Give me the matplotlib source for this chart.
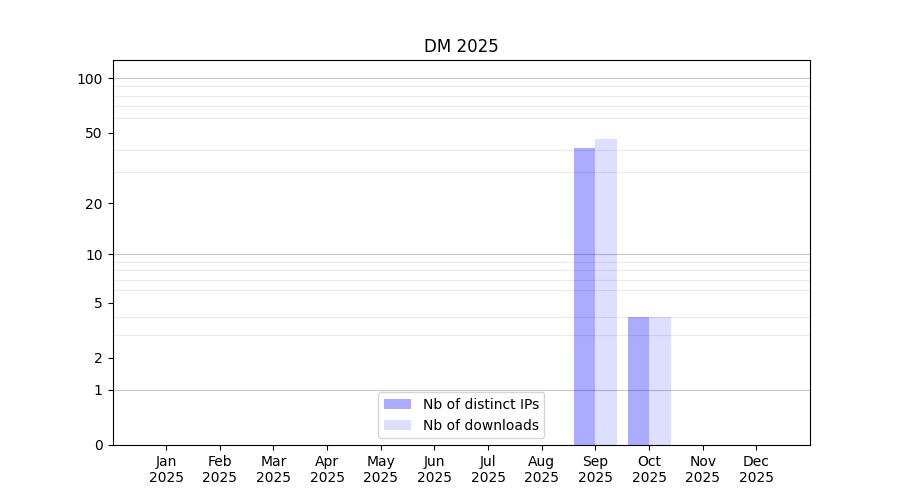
import numpy as np
import matplotlib
matplotlib.use('Agg')
import matplotlib.pyplot as plt
from matplotlib.ticker import FixedLocator, ScalarFormatter

months = ['Jan', 'Feb', 'Mar', 'Apr', 'May', 'Jun', 'Jul', 'Aug', 'Sep', 'Oct', 'Nov', 'Dec']
year = '2025'
distinct_ips = [0, 0, 0, 0, 0, 0, 0, 0, 41, 4, 0, 0]
downloads = [0, 0, 0, 0, 0, 0, 0, 0, 46, 4, 0, 0]

fig, ax = plt.subplots(figsize=(9, 5), dpi=100)
ax.set_axisbelow(True)

x = np.arange(1, len(months) + 1)
w = 0.4
ax.bar(x - w / 2, distinct_ips, w, color='blue', alpha=0.33, label='Nb of distinct IPs', zorder=2)
ax.bar(x + w / 2, downloads, w, color='blue', alpha=0.13, label='Nb of downloads', zorder=2)

# log(1+y) scale
ax.set_yscale('function', functions=(lambda v: np.log10(1 + np.clip(v, 0, None)),
                                     lambda v: 10 ** v - 1))
ax.set_ylim(0, 126)
ax.set_xlim(0, 13)

ax.yaxis.set_major_locator(FixedLocator([0, 1, 2, 5, 10, 20, 50, 100]))
ax.yaxis.set_major_formatter(ScalarFormatter())
ax.yaxis.set_minor_locator(FixedLocator([2, 3, 4, 5, 6, 7, 8, 9, 20, 30, 40, 50, 60, 70, 80, 90]))
ax.tick_params(axis='y', which='minor', length=0)
ax.grid(axis='y', which='minor', color='#ebebeb', lw=0.8, zorder=0)
for v in [1, 10, 100]:
    ax.axhline(v, color='#c8c8c8', lw=0.8, zorder=0.5)

ax.set_xticks(x)
ax.set_xticklabels([m + '\n' + year for m in months])
ax.set_title('DM 2025')
ax.legend(loc='lower center')

plt.savefig('out.png')
